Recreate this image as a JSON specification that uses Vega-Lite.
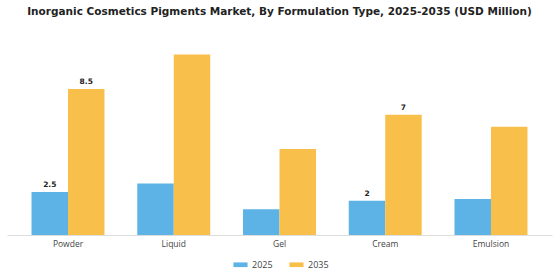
{
  "$schema": "https://vega.github.io/schema/vega-lite/v6.json",
  "width": 545,
  "height": 189,
  "autosize": {"type": "none"},
  "padding": {"left": 7, "top": 46, "right": 8, "bottom": 45},
  "background": "white",
  "title": {
    "text": "Inorganic Cosmetics Pigments Market, By Formulation Type, 2025-2035 (USD Million)",
    "font": "DejaVu Sans",
    "fontSize": 10.5,
    "fontWeight": "bold",
    "color": "#222222",
    "anchor": "middle",
    "offset": 26
  },
  "data": {
    "values": [
      {"type": "Powder", "year": "2025", "value": 2.5, "label": "2.5"},
      {"type": "Powder", "year": "2035", "value": 8.5, "label": "8.5"},
      {"type": "Liquid", "year": "2025", "value": 3.0, "label": ""},
      {"type": "Liquid", "year": "2035", "value": 10.5, "label": ""},
      {"type": "Gel", "year": "2025", "value": 1.5, "label": ""},
      {"type": "Gel", "year": "2035", "value": 5.0, "label": ""},
      {"type": "Cream", "year": "2025", "value": 2.0, "label": "2"},
      {"type": "Cream", "year": "2035", "value": 7.0, "label": "7"},
      {"type": "Emulsion", "year": "2025", "value": 2.1, "label": ""},
      {"type": "Emulsion", "year": "2035", "value": 6.3, "label": ""}
    ]
  },
  "encoding": {
    "x": {
      "field": "type",
      "type": "nominal",
      "sort": ["Powder", "Liquid", "Gel", "Cream", "Emulsion"],
      "scale": {"paddingInner": 0.31, "paddingOuter": 0.232},
      "axis": {
        "title": null,
        "labelAngle": 0,
        "ticks": false,
        "domainColor": "#dddddd",
        "labelFont": "Open Sans",
        "labelFontSize": 8.5,
        "labelColor": "#444444",
        "labelPadding": 4
      }
    },
    "xOffset": {"field": "year", "type": "nominal", "scale": {"paddingInner": 0}},
    "y": {
      "field": "value",
      "type": "quantitative",
      "scale": {"domain": [0, 11]},
      "axis": null
    }
  },
  "layer": [
    {
      "mark": {"type": "bar"},
      "encoding": {
        "color": {
          "field": "year",
          "type": "nominal",
          "scale": {"domain": ["2025", "2035"], "range": ["#5DB3E6", "#F8C04A"]},
          "legend": {
            "title": null,
            "orient": "none",
            "direction": "horizontal",
            "legendX": 226,
            "legendY": 211,
            "symbolType": "M-1,-0.33H1V0.33H-1Z",
            "symbolSize": 200,
            "symbolStrokeWidth": 0,
            "labelFont": "Open Sans",
            "labelFontSize": 9,
            "labelColor": "#444444",
            "columnPadding": 16
          }
        }
      }
    },
    {
      "mark": {"type": "text", "dy": -7, "font": "DejaVu Sans", "fontSize": 7.5, "fontWeight": "bold", "color": "#222222"},
      "encoding": {
        "text": {"field": "label"}
      }
    }
  ],
  "config": {"view": {"stroke": null}}
}
